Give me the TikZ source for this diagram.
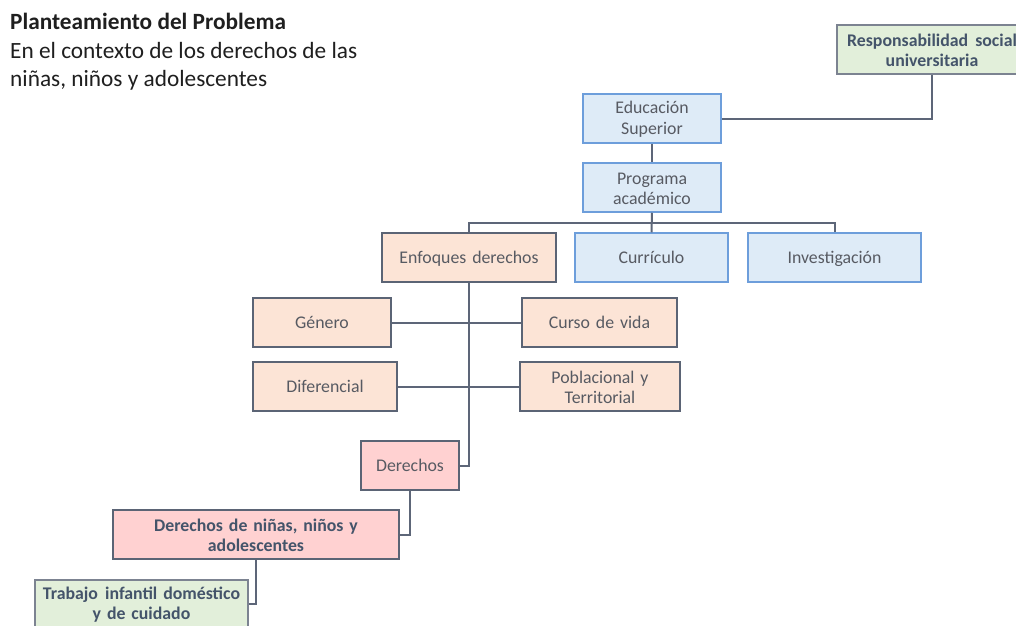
\documentclass[tikz,border=0pt]{standalone}
\usepackage{fontspec}
\setmainfont{Carlito}
\definecolor{linec}{HTML}{5D6678}
\definecolor{bordc}{HTML}{5B6475}
\definecolor{bluebord}{HTML}{6D9EDB}
\definecolor{bluefill}{HTML}{DEEBF7}
\definecolor{peachfill}{HTML}{FCE4D6}
\definecolor{pinkfill}{HTML}{FFD1D1}
\definecolor{greenfill}{HTML}{E2EFDA}
\definecolor{txtgray}{HTML}{575A62}
\definecolor{txtbold}{HTML}{44546A}
\definecolor{titlec}{HTML}{1F1F1F}
\newcommand{\boxat}[7]{%
  \node[#6, minimum width={(#4-#2)*1pt}, minimum height={(#5-#3)*1pt},
        text width={(#4-#2-6)*1pt}] (#1) at ({(#2+#4)/2},{-(#3+#5)/2}) {\strut #7};}
\newcommand{\sboxat}[7]{%
  \node[#6, minimum width={(#4-#2)*1pt}, minimum height={(#5-#3)*1pt},
        text width={(#4-#2-6)*1pt}] (#1) at ({(#2+#4)/2},{-(#3+#5)/2}) {\rule[-4.2pt]{0pt}{20.6pt}#7};}
\begin{document}
\begin{tikzpicture}[x=1pt,y=1pt,
  basebox/.style={rectangle, inner sep=0pt, align=center, line width=1.5pt,
    font=\fontsize{17.8}{20.5}\selectfont, text=txtgray},
  bluebox/.style={basebox, draw=bluebord, fill=bluefill},
  peachbox/.style={basebox, draw=bordc, fill=peachfill},
  pinkbox/.style={basebox, draw=bordc, fill=pinkfill},
  greenbox/.style={basebox, draw=bordc!80, fill=greenfill, font=\fontsize{17.8}{20.5}\selectfont\bfseries, text=txtbold},
  pinkbold/.style={pinkbox, font=\fontsize{17.8}{20.5}\selectfont\bfseries, text=txtbold},
  conn/.style={draw=linec, line width=2pt},
  titletext/.style={anchor=north west, align=left, inner sep=0pt, text=titlec, font=\fontsize{23.3}{28.5}\selectfont}
]
\useasboundingbox (0,0) rectangle (1016,-625);
\fill[white] (0,0) rectangle (1016,-625);

\node[titletext] (title) at (10,-13) {\textbf{Planteamiento del Problema}\\En el contexto de los derechos de las\\niñas, niños y adolescentes};

\boxat{rsu}{837}{25}{1027}{74}{greenbox}{Responsabilidad\hspace{0.4em}social\\universitaria}
\boxat{edu}{583}{94}{721}{143}{bluebox}{Educación\\Superior}
\boxat{prog}{583}{163}{721}{212}{bluebox}{Programa\\académico}
\sboxat{enf}{382}{233}{556}{282}{peachbox}{Enfoques derechos}
\sboxat{cur}{575}{233}{728}{282}{bluebox}{Currículo}
\sboxat{inv}{748}{233}{921}{282}{bluebox}{Investigación}
\sboxat{gen}{253}{298}{391}{347}{peachbox}{Género}
\sboxat{cdv}{522}{298}{677}{347}{peachbox}{Curso de vida}
\sboxat{dif}{253}{362}{397}{411}{peachbox}{Diferencial}
\boxat{pyt}{520}{362}{680}{411}{peachbox}{Poblacional y\\Territorial}
\sboxat{der}{361}{441}{459}{490}{pinkbox}{Derechos}
\boxat{dnna}{113}{510}{399}{559}{pinkbold}{Derechos de niñas, niños y\\adolescentes}
\boxat{tid}{35}{580}{248}{627}{greenbox}{Trabajo\hspace{0.4em}infantil doméstico\\y de cuidado}

\coordinate (bus) at (0,-223);

% connectors
\draw[conn] (rsu.south) |- (edu.east);
\draw[conn] (edu.south) -- (prog.north);
\draw[conn] (prog.south) -- (cur.north);
\draw[conn] (enf.north) |- (bus -| cur.north) -| (inv.north);
\draw[conn] (enf.south) |- (der.east);
\draw[conn] (gen.east) -- (cdv.west);
\draw[conn] (dif.east) -- (pyt.west);
\draw[conn] (der.south) |- (dnna.east);
\draw[conn] (dnna.south) |- (tid.east);
\end{tikzpicture}
\end{document}
